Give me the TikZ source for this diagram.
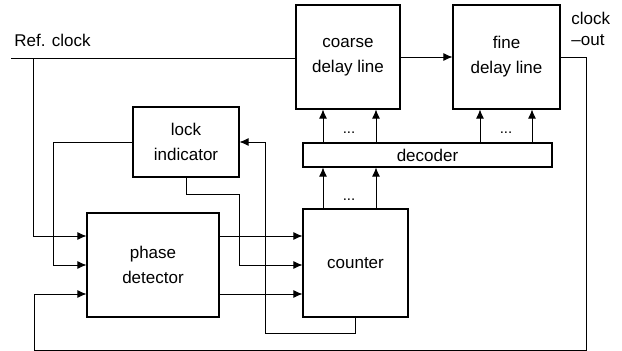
\documentclass[tikz,border=0pt]{standalone}
\usepackage{fontspec}
\setmainfont{Liberation Sans}
\usetikzlibrary{arrows.meta}
\tikzset{
  blk/.style={draw, line width=1.1pt, align=center, inner sep=0pt},
  dots/.style={anchor=base, inner sep=0pt, font=\fontsize{15}{15}\selectfont},
}
\begin{document}
\begin{tikzpicture}[x=1pt, y=-1pt, line width=0.9pt, >={Latex[length=9pt,width=8pt]},
    font=\fontsize{17}{25}\selectfont]
  \useasboundingbox (0,0) rectangle (622,351);
  % blocks
  \node[blk, minimum width=104pt, minimum height=104pt] (coarse) at (348,57) {coarse\\delay line};
  \node[blk, minimum width=107pt, minimum height=104pt] (fine) at (506.5,57) {fine\\delay line};
  \node[blk, minimum width=249pt, minimum height=24pt] (decoder) at (427.5,155) {decoder};
  \node[blk, minimum width=106pt, minimum height=70pt] (lock) at (186,142) {lock\\indicator};
  \node[blk, minimum width=132pt, minimum height=104pt] (phase) at (153,265) {phase\\detector};
  \node[blk, minimum width=105pt, minimum height=108pt] (counter) at (355.5,263) {counter};
  % labels
  \node[anchor=base west, inner sep=0pt] (reftxt) at (14,46) {Ref. clock};
  \node[anchor=north west, inner sep=0pt, align=left, font=\fontsize{17}{21}\selectfont] (outtxt) at (571,12) {clock\\–out};
  \coordinate (rc) at (11,58);
  \coordinate (tap) at (33,58);
  % reference clock
  \draw (rc) -- (coarse.west |- rc);
  \draw[->] (tap) |- ([yshift=29pt]phase.west);
  \draw[->] (coarse.east) -- (fine.west);
  % decoder buses
  \foreach \x in {323,376} {
    \draw[->] (\x,0 |- decoder.north) -- (\x,0 |- coarse.south);
    \draw[->] (\x,0 |- counter.north) -- (\x,0 |- decoder.south);
  }
  \foreach \x in {480,532}
    \draw[->] (\x,0 |- decoder.north) -- (\x,0 |- fine.south);
  \node[dots] (d1) at (349,133) {...};
  \node[dots] (d2) at (506,133) {...};
  \node[dots] (d3) at (349,200) {...};
  % phase detector to counter
  \draw[->] ([yshift=29pt]phase.east) -- ([yshift=29pt]phase.east -| counter.west);
  \draw[->] ([yshift=-29pt]phase.east) -- ([yshift=-29pt]phase.east -| counter.west);
  % lock indicator
  \draw[->] (lock.west) -| ([xshift=-33pt]phase.west) -- (phase.west);
  \draw[->] (lock.south) |- ++(53,17) |- (phase.east -| counter.west);
  \draw[->] (counter.south) -- ++(0,16) -| ([xshift=26pt]lock.east) -- (lock.east);
  % clock out feedback
  \draw[->] (fine.east) -| (586,350) -| ([xshift=-52pt,yshift=-29pt]phase.west) -- ([yshift=-29pt]phase.west);
\end{tikzpicture}
\end{document}
